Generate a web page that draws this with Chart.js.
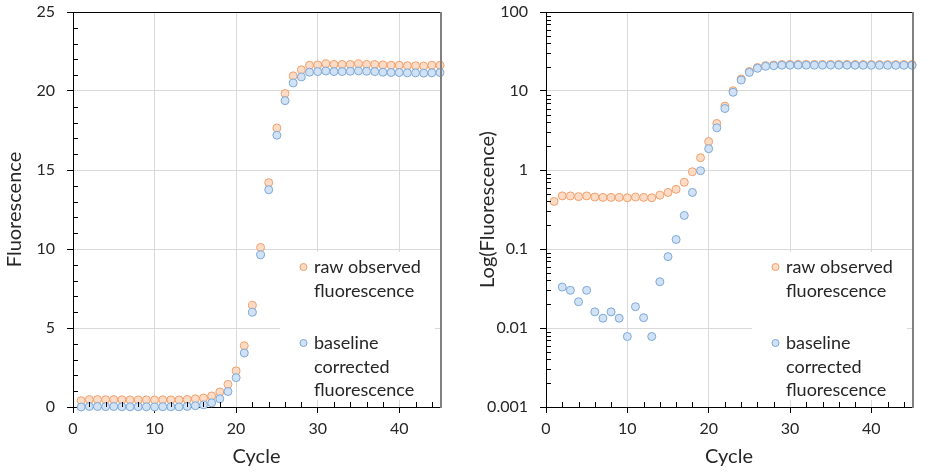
<!DOCTYPE html>
<html>
<head>
<meta charset="utf-8">
<title>Fluorescence</title>
<script src="https://cdn.jsdelivr.net/npm/chart.js@4.4.0/dist/chart.umd.min.js"></script>
<style>
  html, body { margin: 0; padding: 0; background: #fff; }
  #wrap { position: relative; width: 928px; height: 473px; overflow: hidden; }
  .panel { position: absolute; top: 0; width: 464px; height: 473px; }
</style>
</head>
<body>
<div id="wrap">
  <div class="panel" style="left:0"><canvas id="linChart" width="464" height="473"></canvas></div>
  <div class="panel" style="left:464px"><canvas id="logChart" width="464" height="473"></canvas></div>
</div>
<script>
const cycles = [1, 2, 3, 4, 5, 6, 7, 8, 9, 10, 11, 12, 13, 14, 15, 16, 17, 18, 19, 20,
  21, 22, 23, 24, 25, 26, 27, 28, 29, 30, 31, 32, 33, 34, 35, 36, 37, 38, 39, 40,
  41, 42, 43, 44, 45];

const rawObserved = [0.40, 0.47, 0.47, 0.46, 0.47, 0.455, 0.45, 0.45, 0.45, 0.445,
  0.455, 0.45, 0.445, 0.48, 0.52, 0.57, 0.70, 0.95, 1.43, 2.29,
  3.88, 6.44, 10.1, 14.2, 17.66, 19.84, 20.96, 21.34, 21.63, 21.65,
  21.72, 21.68, 21.68, 21.68, 21.72, 21.68, 21.68, 21.65, 21.63, 21.63,
  21.6, 21.6, 21.58, 21.63, 21.63];

const baselineCorrected = [0, 0.033, 0.030, 0.0215, 0.030, 0.016, 0.0133, 0.016, 0.0133, 0.0078,
  0.0186, 0.0135, 0.0078, 0.0385, 0.080, 0.132, 0.266, 0.52, 0.98, 1.86,
  3.42, 6.0, 9.63, 13.75, 17.2, 19.39, 20.51, 20.89, 21.19, 21.23,
  21.27, 21.23, 21.23, 21.25, 21.27, 21.25, 21.23, 21.19, 21.17, 21.17,
  21.15, 21.15, 21.13, 21.15, 21.17];

const cycleTicks = [0, 10, 20, 30, 40];
const linTicks = [0, 5, 10, 15, 20, 25];
const logTicks = [0.001, 0.01, 0.1, 1, 10, 100];

const legendLines = [
  ['raw observed', 'fluorescence'],
  ['baseline', 'corrected', 'fluorescence']
];

const orange = { border: '#f0a06c', fill: '#fcdcc6' };
const blue = { border: '#7ea8d8', fill: '#d0e2f4' };
const textColor = '#262626';

Chart.defaults.font.family = 'Lato, "Open Sans", sans-serif';
Chart.defaults.color = textColor;

function setTicks(values) {
  return scale => {
    scale.ticks = values.map(v => ({ value: v }));
  };
}

// inward minor ticks, top/right frame and the wrapped legend
const framePlugin = {
  id: 'frame',
  beforeDatasetsDraw(chart) {
    const { ctx, chartArea: a } = chart;
    ctx.save();
    ctx.fillStyle = '#fff';
    ctx.fillRect(a.right - 160, a.top + 240, 155, 148);

    const mx = a.right - 136.5;
    const tx = mx + 10.5;
    const y0 = a.top + 255;
    const lh = 23.7;
    const starts = [y0, y0 + 76];
    const colors = [orange, blue];
    ctx.font = '18px Lato, "Open Sans", sans-serif';
    ctx.textBaseline = 'middle';
    ctx.textAlign = 'left';
    legendLines.forEach((lines, i) => {
      ctx.beginPath();
      ctx.arc(mx, starts[i], 3.5, 0, Math.PI * 2);
      ctx.fillStyle = colors[i].fill;
      ctx.fill();
      ctx.strokeStyle = colors[i].border;
      ctx.lineWidth = 1;
      ctx.stroke();
      ctx.fillStyle = textColor;
      lines.forEach((t, j) => ctx.fillText(t, tx, starts[i] + j * lh));
    });
    ctx.restore();
  },
  afterDraw(chart, args, opts) {
    const { ctx, chartArea: a, scales: { x, y } } = chart;
    ctx.save();
    ctx.strokeStyle = '#000';
    ctx.lineWidth = 1;
    ctx.beginPath();
    opts.minorY.forEach(v => {
      const py = Math.round(y.getPixelForValue(v)) + 0.5;
      ctx.moveTo(a.left, py);
      ctx.lineTo(a.left + 5, py);
    });
    opts.minorX.forEach(v => {
      const px = Math.round(x.getPixelForValue(v)) + 0.5;
      ctx.moveTo(px, a.bottom);
      ctx.lineTo(px, a.bottom - 5);
    });
    ctx.stroke();

    ctx.beginPath();
    ctx.moveTo(a.left - 6, a.top + 0.5);
    ctx.lineTo(a.right, a.top + 0.5);
    ctx.stroke();

    ctx.strokeStyle = '#808080';
    ctx.lineWidth = 2;
    ctx.beginPath();
    ctx.moveTo(a.right + 1, a.top);
    ctx.lineTo(a.right + 1, a.bottom + 1);
    ctx.stroke();
    ctx.restore();
  }
};

function makeChart(id, yType, yTicks, yTitle, padLeft, padRight, yMinor, yData) {
  const minorX = [];
  for (let v = 2; v < 45; v += 2) if (v % 10) minorX.push(v);

  return new Chart(document.getElementById(id), {
    type: 'scatter',
    data: {
      datasets: [
        {
          label: 'baseline corrected fluorescence',
          data: cycles.map((c, i) => ({ x: c, y: yData(baselineCorrected[i]) })),
          backgroundColor: blue.fill,
          borderColor: blue.border,
          borderWidth: 1,
          pointRadius: 4,
          pointHoverRadius: 4,
          clip: false
        },
        {
          label: 'raw observed fluorescence',
          data: cycles.map((c, i) => ({ x: c, y: yData(rawObserved[i]) })),
          backgroundColor: orange.fill,
          borderColor: orange.border,
          borderWidth: 1,
          pointRadius: 4,
          pointHoverRadius: 4,
          clip: false
        }
      ]
    },
    options: {
      responsive: false,
      animation: false,
      events: [],
      layout: { padding: { left: padLeft, right: padRight, top: 12, bottom: 0 } },
      scales: {
        x: {
          type: 'linear',
          min: 0,
          max: 45,
          afterBuildTicks: setTicks(cycleTicks),
          afterFit: s => { s.height = 66; },
          ticks: { font: { size: 16 }, padding: 6, color: textColor, maxRotation: 0 },
          grid: { color: '#d9d9d9', tickColor: '#000', tickLength: 6 },
          border: { color: '#000', width: 1 },
          title: { display: true, text: 'Cycle', font: { size: 20 }, color: textColor, padding: { top: 0, bottom: 4 } }
        },
        y: {
          type: yType,
          min: yTicks[0],
          max: yTicks[yTicks.length - 1],
          afterBuildTicks: setTicks(yTicks),
          afterFit: s => {
            s.width = 73;
            s.paddingTop = 0;
            s.paddingBottom = 0;
          },
          ticks: { font: { size: 16 }, padding: 12, color: textColor, callback: v => String(v) },
          grid: { color: '#d9d9d9', tickColor: '#000', tickLength: 6 },
          border: { color: '#000', width: 1 },
          title: { display: true, text: yTitle, font: { size: 20 }, color: textColor, padding: { top: 3, bottom: 0 } }
        }
      },
      plugins: {
        legend: { display: false },
        tooltip: { enabled: false },
        frame: { minorX, minorY: yMinor }
      }
    },
    plugins: [framePlugin]
  });
}

try {
  const linMinor = [];
  for (let v = 1; v < 25; v++) if (v % 5) linMinor.push(v);
  makeChart('linChart', 'linear', linTicks, 'Fluorescence', 0, 24, linMinor, v => v);
} catch (e) {
  console.error('Error creating linChart:', e);
}

try {
  const logMinor = [];
  logTicks.slice(0, -1).forEach(d => {
    for (let k = 2; k <= 9; k++) logMinor.push(d * k);
  });
  makeChart('logChart', 'logarithmic', logTicks, 'Log(Fluorescence)', 9, 16, logMinor, v => (v > 0 ? v : null));
} catch (e) {
  console.error('Error creating logChart:', e);
}
</script>
</body>
</html>
